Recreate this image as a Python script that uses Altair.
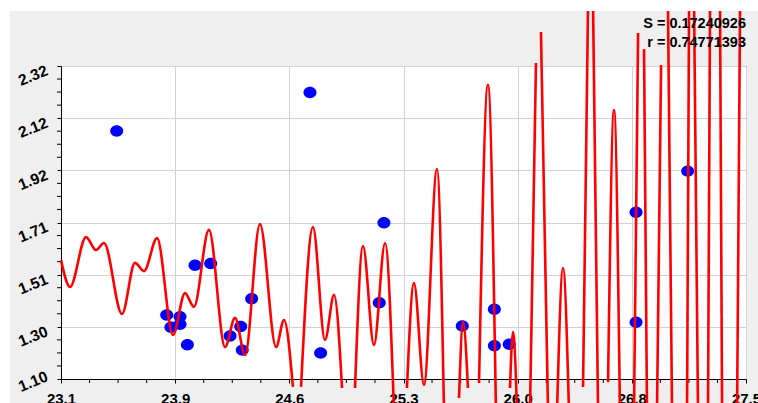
import altair as alt
import pandas as pd

# ---- data: blue measured points ----
pt_x = [23.481, 24.717, 23.801, 23.828, 23.886, 23.886, 23.933, 23.982, 24.082, 24.206,
        24.274, 24.284, 24.344, 25.190, 25.160, 24.785, 25.691, 25.896, 25.896, 25.991,
        26.802, 26.802, 27.132]
pt_y = [2.070, 2.220, 1.350, 1.302, 1.344, 1.314, 1.234, 1.545, 1.552, 1.268,
        1.305, 1.213, 1.414, 1.711, 1.398, 1.202, 1.307, 1.373, 1.230, 1.236,
        1.752, 1.322, 1.913]

# ---- data: red fitted curve (extrema, broken into drawn pieces) ----
curve_x = [
    23.125, 23.183, 23.285, 23.349, 23.400, 23.515, 23.598, 23.656, 23.739, 23.841,
    23.918, 23.975, 24.071, 24.174, 24.238, 24.302, 24.397, 24.500, 24.551, 24.608,
    24.660, 24.736, 24.813, 24.871, 24.922,
    25.005, 25.056, 25.126, 25.197, 25.254,
    25.337, 25.382, 25.446, 25.529, 25.574,
    25.670, 25.696, 25.727,
    25.798, 25.855, 25.906,
    25.996, 26.015, 26.041,
    26.124, 26.162,
    26.194, 26.239,
    26.297, 26.335, 26.373,
    26.463, 26.495,
    26.527, 26.559,
    26.623, 26.661, 26.699,
    26.789, 26.815,
    26.853, 26.872,
    26.936, 26.962,
    27.006, 27.032,
    27.128, 27.141,
    27.173, 27.198,
    27.262, 27.275,
    27.339, 27.352,
    27.448, 27.467,
]
curve_y = [
    1.565, 1.460, 1.655, 1.604, 1.632, 1.354, 1.554, 1.522, 1.651, 1.272,
    1.436, 1.382, 1.683, 1.225, 1.339, 1.194, 1.706, 1.225, 1.331, 1.069,
    1.069, 1.694, 1.253, 1.429, 1.065,
    1.065, 1.620, 1.233, 1.632, 0.979,
    1.065, 1.475, 1.077, 1.921, 0.979,
    1.026, 1.323, 1.065,
    1.084, 2.250, 0.979,
    1.065, 1.284, 0.979,
    0.979, 2.336,
    2.457, 0.979,
    0.979, 1.534, 0.979,
    1.069, 2.563,
    2.563, 0.979,
    1.088, 2.152, 0.979,
    0.979, 2.453,
    2.390, 0.979,
    0.979, 2.328,
    2.563, 0.979,
    0.979, 2.563,
    2.563, 0.979,
    0.979, 2.563,
    2.563, 0.979,
    0.979, 2.563,
]
curve_seg = ([0] * 20 + [1] * 5 + [2] * 5 + [3] * 5 + [4] * 3 + [5] * 3 + [6] * 3 +
             [7] * 2 + [8] * 2 + [9] * 3 + [10] * 2 + [11] * 2 + [12] * 3 + [13] * 2 +
             [14] * 2 + [15] * 2 + [16] * 2 + [17] * 2 + [18] * 2 + [19] * 2 + [20] * 2 +
             [21] * 2)

# ---- axes ----
x_major = [23.125, 23.855, 24.585, 25.315, 26.045, 26.775, 27.505]
x_labels = ["23.1", "23.9", "24.6", "25.3", "26.0", "26.8", "27.5"]
y_major = [1.10, 1.304, 1.508, 1.712, 1.916, 2.12, 2.324]
y_labels = ["1.10", "1.30", "1.51", "1.71", "1.92", "2.12", "2.32"]

stats_text = "S = 0.17240926\nr = 0.74771393"

x_minor = [round(a + (b - a) * k / 4, 5) for a, b in zip(x_major[:-1], x_major[1:]) for k in (1, 2, 3)]
y_minor = [round(a + (b - a) * k / 4, 5) for a, b in zip(y_major[:-1], y_major[1:]) for k in (1, 2, 3)]

W, H = 685, 313
FONT = "Liberation Sans"

x_scale = alt.Scale(domain=[23.125, 27.505], nice=False, zero=False)
y_scale = alt.Scale(domain=[1.10, 2.324], nice=False, zero=False)

x_axis = alt.Axis(
    values=x_major,
    labelExpr="%s[indexof(%s, datum.value)]" % (x_labels, x_major),
    title=None, grid=True, gridColor="#d2d2d2", gridWidth=1,
    tickSize=4, tickColor="black", domainColor="black",
    labelPadding=8, labelFontSize=15, labelFontWeight="bold", labelFont=FONT,
    labelColor="black", labelFlush=False, labelOverlap=False,
)
y_axis = alt.Axis(
    values=y_major,
    labelExpr="%s[indexof(%s, datum.value)]" % (y_labels, y_major),
    title=None, grid=True, gridColor="#d2d2d2", gridWidth=1,
    tickSize=4, tickColor="black", domainColor="black",
    labelPadding=13, labelFontSize=15.5, labelFontWeight="bold", labelFont=FONT,
    labelColor="black", labelAngle=338, labelAlign="right", labelBaseline="top",
    labelOffset={"condition": {"test": "datum.value < 1.2", "value": -10}, "value": -3},
    labelFlush=False, labelOverlap=False,
)

pts = pd.DataFrame({"x": pt_x, "y": pt_y})
curve = pd.DataFrame({"x": curve_x, "y": curve_y, "seg": curve_seg})
xm = pd.DataFrame({"x": x_minor})
ym = pd.DataFrame({"y": y_minor})
one = pd.DataFrame({"t": [stats_text]})

X = alt.X("x:Q", scale=x_scale, axis=x_axis)
Y = alt.Y("y:Q", scale=y_scale, axis=y_axis)

minor_x_layer = alt.Chart(xm).mark_rule(color="black", strokeWidth=1).encode(
    x=X, y=alt.value(H), y2=alt.value(H + 4))
minor_y_layer = alt.Chart(ym).mark_rule(color="black", strokeWidth=1).encode(
    y=Y, x=alt.value(-4), x2=alt.value(0))

ellipse = "M-1,0A1,0.88,0,1,1,1,0A1,0.88,0,1,1,-1,0Z"
points = alt.Chart(pts).mark_point(
    shape=ellipse, filled=True, size=169, color="#0000ff", opacity=1, strokeWidth=0
).encode(x=X, y=Y)

line = alt.Chart(curve).mark_line(
    interpolate="monotone", color="#ff0000", strokeWidth=2.6
).encode(x=X, y=Y, detail="seg:N")

text = alt.Chart(one).mark_text(
    align="right", baseline="alphabetic", fontSize=14.5, fontWeight="bold",
    font=FONT, color="black", lineBreak="\n", lineHeight=19.5
).encode(x=alt.value(W), y=alt.value(-38.5), text="t:N")

white_left = alt.Chart(one).mark_rect(color="white").encode(
    x=alt.value(-61), x2=alt.value(-51), y=alt.value(-66), y2=alt.value(H + 30))
white_top = alt.Chart(one).mark_rect(color="white").encode(
    x=alt.value(-61), x2=alt.value(W + 20), y=alt.value(-66), y2=alt.value(-55))

chart = alt.layer(
    minor_x_layer, minor_y_layer, points, line, text, white_left, white_top
).properties(
    width=W, height=H,
    padding={"left": 61, "top": 66, "right": 12, "bottom": 24},
    autosize=alt.AutoSizeParams(type="none"),
).configure(
    background="#efefef"
).configure_view(
    fill="white", stroke="black", strokeWidth=1
)

chart.save("out.html", embed_options={"renderer": "svg", "actions": False})
